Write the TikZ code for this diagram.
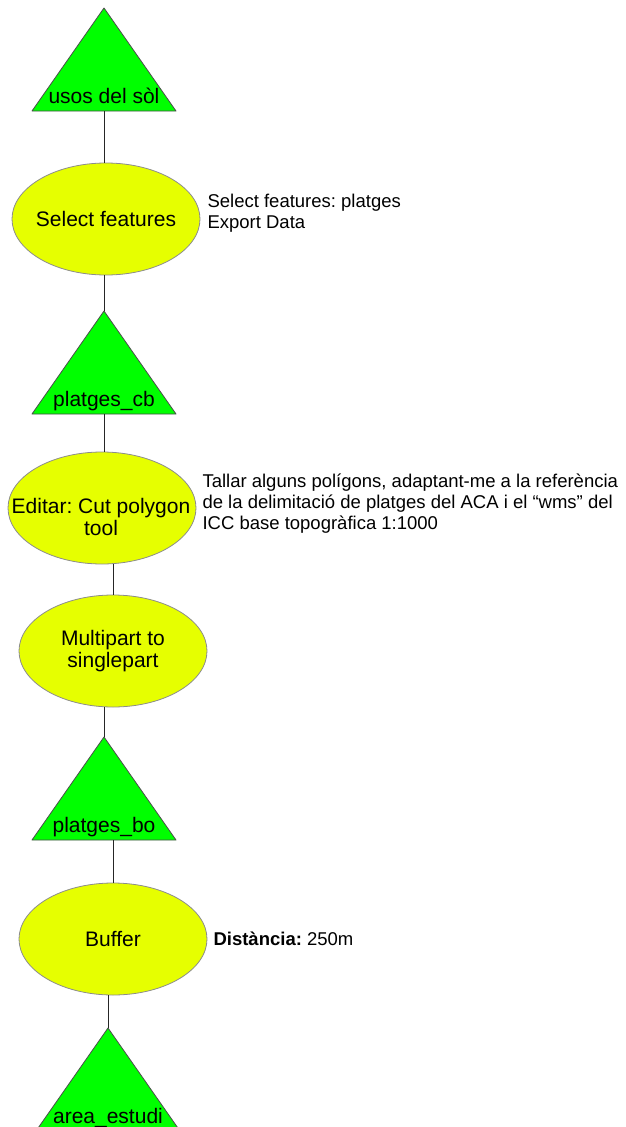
\documentclass[tikz,border=0pt]{standalone}
\usepackage{fontspec}
\setmainfont{Liberation Sans}
\usepackage{tikz}
\usetikzlibrary{shapes.geometric, positioning}
\definecolor{layergreen}{RGB}{0,255,0}
\definecolor{toolyellow}{RGB}{230,255,0}
\frenchspacing

\begin{document}
\begin{tikzpicture}[x=1pt, y=-1pt,
    tool/.style={ellipse, draw=black!45, fill=toolyellow, line width=0.8pt,
      minimum width=188pt, minimum height=112pt, inner sep=0pt},
    tooltext/.style={font=\fontsize{21}{22}\selectfont, align=center},
    layer/.style={draw=black!70, fill=layergreen, line width=0.8pt, line join=round},
    layertext/.style={font=\fontsize{21}{22}\selectfont, anchor=base},
    note/.style={font=\fontsize{18.5}{21}\selectfont, align=left, anchor=west},
    link/.style={draw=black!85, line width=0.8pt}]
  \useasboundingbox (0,0) rectangle (625,1127);

  % layers (triangles)
  \foreach \lay/\lx/\ly/\ltxt in {usos/104/8/usos del sòl, cb/104/311/platges\_cb,
      bo/104/737/platges\_bo, area/108/1028/area\_estudi} {
    \draw[layer] (\lx,\ly) -- ++(72,103) -- ++(-144,0) -- cycle;
    \coordinate (\lay-top) at (\lx,\ly);
    \coordinate (\lay-bot) at (\lx,\ly+103);
    \node[layertext] (\lay) at (\lx,\ly+95) {\ltxt};
  }

  % tools (ellipses)
  \node[tool] (sel) at (106,219) {};
  \node[tooltext] at (sel) {Select features};
  \node[tool] (edit) at (102,508) {};
  \node[tooltext] at (101,517) {Editar: Cut polygon\\tool};
  \node[tool] (multi) at (113,651) {};
  \node[tooltext] at (multi) {Multipart to\\singlepart};
  \node[tool] (buf) at (113,939) {};
  \node[tooltext] at (buf) {Buffer};

  % notes
  \node[note] (selnote) at (204,213) {Select features: platges\\Export Data};
  \node[note] (editnote) at (199,504) {Tallar alguns polígons, adaptant-me a la referència\\
    de la delimitació de platges del ACA i el “wms” del\\ICC base topogràfica 1:1000};
  \node[note] (bufnote) at (210,939) {\textbf{Distància:} 250m};

  % connectors
  \draw[link] (usos-bot) -- (usos-bot |- sel.north);
  \draw[link] (cb-top) -- (cb-top |- sel.south);
  \draw[link] (cb-bot) -- (cb-bot |- edit.north);
  \draw[link] (multi.north) -- (multi.north |- edit.south);
  \draw[link] (bo-top) -- (bo-top |- multi.south);
  \draw[link] (buf.north) -- (buf.north |- bo-bot);
  \draw[link] (area-top) -- (area-top |- buf.south);
\end{tikzpicture}
\end{document}
